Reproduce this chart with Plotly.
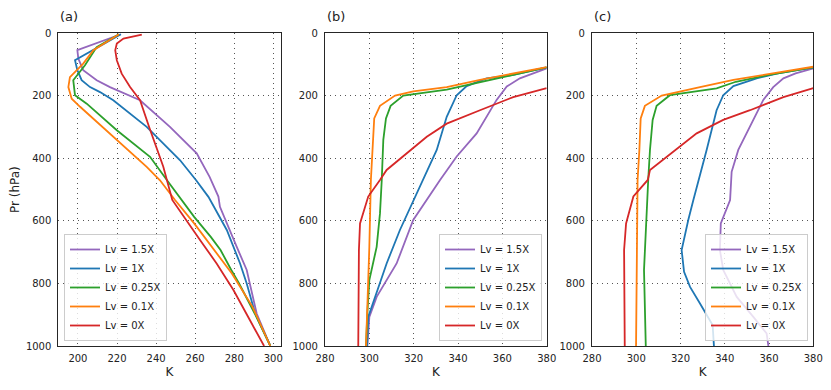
import plotly.graph_objects as go
from plotly.subplots import make_subplots

labels = ["Lv = 1.5X", "Lv = 1X", "Lv = 0.25X", "Lv = 0.1X", "Lv = 0X"]
colors = ["#9467bd", "#1f77b4", "#2ca02c", "#ff7f0e", "#d62728"]

# panel (a): pressure (hPa) and temperature (K) per Lv
a_p_15 = [3, 28, 54, 81, 118, 150, 172, 214, 299, 384, 459, 522, 555, 683, 757, 896, 1000]
a_t_15 = [222, 211.3, 199.7, 200.2, 202.7, 209.6, 216.4, 231.8, 247.1, 260.8, 267.4, 271.9, 272.7, 281.3, 286.4, 291.5, 298.5]
a_p_1 = [3, 86, 118, 150, 172, 188, 214, 299, 406, 470, 523, 629, 736, 800, 896, 1000]
a_t_1 = [222, 198.5, 199.7, 201.9, 206.2, 211.3, 218.1, 235.2, 252.3, 260.5, 266.8, 276.2, 283, 286.4, 290.7, 298.5]
a_p_025 = [3, 44, 102, 150, 198, 225, 310, 395, 470, 533, 587, 651, 693, 757, 800, 896, 1000]
a_t_025 = [221, 209.6, 203.6, 197.6, 198.5, 204.5, 219.9, 236.9, 245.6, 253, 259.5, 268, 273, 278.5, 282.5, 290.5, 298.5]
a_p_01 = [3, 54, 97, 140, 172, 209, 235, 320, 427, 470, 533, 608, 693, 768, 874, 1000]
a_t_01 = [221, 207.9, 202.7, 195.9, 195.1, 196.8, 201.1, 216.4, 235.2, 242, 249.7, 259.5, 270, 278.8, 289.3, 298.5]
a_p_0 = [4, 17, 33, 54, 86, 129, 172, 214, 299, 427, 533, 608, 661, 736, 821, 917, 1000]
a_t_0 = [232.7, 223.3, 219.9, 219.1, 219.9, 222.4, 226.7, 231.8, 236.4, 243.7, 248.3, 256.5, 262.5, 271, 279.6, 288, 295.3]

# panel (b)
b_p_15 = [112, 144, 170, 213, 320, 394, 469, 532, 597, 736, 843, 907, 1000]
b_t_15 = [380, 367.9, 362, 357.4, 348.4, 339.4, 331.9, 325.9, 319.8, 312.3, 303.3, 300, 299.1]
b_p_1 = [109, 133, 144, 169, 198, 267, 373, 469, 527, 629, 736, 843, 907, 1000]
b_t_1 = [380, 364.9, 352.9, 343.9, 339.4, 334.9, 330.4, 324.3, 320.3, 313.8, 307.8, 302.6, 299.5, 299]
b_p_025 = [109, 133, 180, 199, 232, 272, 341, 469, 576, 683, 789, 896, 1000]
b_t_025 = [380, 364.9, 334.9, 315.3, 309.6, 307.5, 306.3, 305.6, 304.8, 303.3, 300, 299.1, 298.5]
b_p_01 = [108, 128, 149, 172, 186, 199, 232, 272, 373, 469, 683, 843, 1000]
b_t_01 = [380, 364.9, 349.9, 334.9, 319.8, 311.6, 304.8, 302.2, 301.5, 300.7, 300, 299.1, 298.5]
b_p_0 = [175, 204, 246, 289, 331, 384, 437, 469, 522, 608, 693, 1000]
b_t_0 = [380, 364.9, 349.9, 334.9, 325.9, 316.9, 307.8, 304.8, 299.5, 295.8, 295.3, 295]

# panel (c)
c_p_15 = [112, 128, 144, 172, 213, 299, 373, 443, 533, 608, 693, 757, 843, 907, 960, 1000]
c_t_15 = [380, 372, 366.5, 361.9, 357.4, 351.4, 346.1, 343.1, 342.4, 338.2, 337.8, 339.3, 345.4, 352.9, 358.9, 359.7]
c_p_1 = [109, 128, 144, 169, 198, 246, 373, 469, 533, 597, 693, 763, 811, 864, 933, 1000]
c_t_1 = [380, 364, 354.4, 343.9, 339.3, 336.3, 331.8, 328, 325.8, 323.5, 320.5, 321.6, 324.3, 328.8, 334.5, 335.1]
c_p_025 = [109, 133, 155, 176, 198, 232, 277, 373, 469, 629, 757, 1000]
c_t_025 = [380, 360, 345, 336.3, 315.2, 309.2, 307.4, 306.2, 305.4, 304.4, 303.5, 304.3]
c_p_01 = [107, 131, 149, 172, 199, 232, 272, 373, 469, 1000]
c_t_01 = [380, 358.9, 343.9, 328.8, 311.5, 303.9, 302, 301.4, 300.6, 299.9]
c_p_0 = [175, 204, 246, 277, 320, 379, 437, 469, 522, 608, 693, 1000]
c_t_0 = [380, 366.5, 351.4, 339.3, 327.3, 316.7, 306.2, 305.2, 298.7, 295.4, 294.5, 294.8]

panels = [
    ([a_t_15, a_t_1, a_t_025, a_t_01, a_t_0], [a_p_15, a_p_1, a_p_025, a_p_01, a_p_0]),
    ([b_t_15, b_t_1, b_t_025, b_t_01, b_t_0], [b_p_15, b_p_1, b_p_025, b_p_01, b_p_0]),
    ([c_t_15, c_t_1, c_t_025, c_t_01, c_t_0], [c_p_15, c_p_1, c_p_025, c_p_01, c_p_0]),
]
panel_names = ["(a)", "(b)", "(c)"]
legend_ids = ["legend", "legend2", "legend3"]

# the page body adds an 8px margin, so the figure is 8px smaller and all
# page positions below are shifted by that offset
OFF = 8
W, H = 831 - OFF, 390 - OFF
font = "DejaVu Sans"


def fx(px):
    return (px - OFF) / W


def fy(py):
    return 1 - (py - OFF) / H


fig = make_subplots(rows=1, cols=3)

for i, (temps, press) in enumerate(panels):
    for k in range(5):
        fig.add_trace(go.Scatter(
            x=temps[k], y=press[k], mode="lines", name=labels[k],
            line=dict(color=colors[k], width=1.8),
            legend=legend_ids[i],
        ), row=1, col=i + 1)

# plot area positions on the page in pixels (left, right)
x_px = [(58.4, 280.7), (325, 546.7), (592, 813.3)]
x_ranges = [[190, 303.8], [280, 380], [280, 380]]
y_top, y_bot = 33.3, 346

for i in range(3):
    sfx = "" if i == 0 else str(i + 1)
    fig.layout["xaxis" + sfx].update(
        domain=[fx(x_px[i][0]), fx(x_px[i][1])], range=x_ranges[i], dtick=20,
        showline=True, mirror=True, linecolor="#262626", linewidth=1.1,
        showgrid=True, gridcolor="#555", gridwidth=1, griddash="1px,4px",
        zeroline=False, ticks="outside", ticklen=3, tickcolor="rgba(0,0,0,0)",
        tickfont=dict(size=10, color="#222", family=font), automargin=False,
        title=dict(text="K", font=dict(size=12, color="#222", family=font), standoff=4),
    )
    fig.layout["yaxis" + sfx].update(
        domain=[fy(y_bot), fy(y_top)], range=[1000, 0], dtick=200,
        showline=True, mirror=True, linecolor="#262626", linewidth=1.1,
        showgrid=True, gridcolor="#555", gridwidth=1, griddash="1px,4px",
        zeroline=False, ticks="outside", ticklen=4, tickcolor="rgba(0,0,0,0)",
        tickfont=dict(size=10, color="#222", family=font), automargin=False,
    )
    fig.add_annotation(text=panel_names[i], xref="paper", yref="paper",
                       x=fx(x_px[i][0]), y=fy(7), xanchor="left", yanchor="top",
                       showarrow=False, font=dict(size=13, color="#222", family=font))

fig.layout.yaxis.title = dict(text="Pr (hPa)", font=dict(size=12, color="#222", family=font), standoff=4)

leg_style = dict(bgcolor="rgba(255,255,255,0.8)", bordercolor="#cccccc", borderwidth=1,
                 font=dict(size=10, color="#222", family=font), yanchor="bottom",
                 y=fy(341), itemwidth=30, tracegroupgap=0)

fig.update_layout(
    width=W, height=H, margin=dict(l=0, r=0, t=0, b=0),
    plot_bgcolor="white", paper_bgcolor="white",
    legend=dict(leg_style, x=fx(64), xanchor="left"),
    legend2=dict(leg_style, x=fx(542), xanchor="right"),
    legend3=dict(leg_style, x=fx(808), xanchor="right"),
)

fig.write_html("out.html")
